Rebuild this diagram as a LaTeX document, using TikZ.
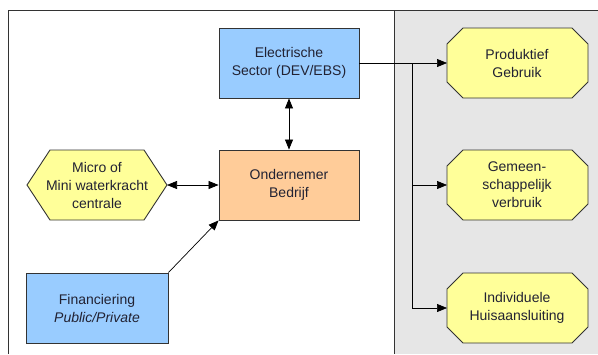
\documentclass[tikz,border=0pt]{standalone}
\usepackage{fontspec}
\setmainfont{Liberation Sans}
\usetikzlibrary{arrows.meta}
\definecolor{boxblue}{HTML}{99CCFF}
\definecolor{boxorange}{HTML}{FFCC99}
\definecolor{boxyellow}{HTML}{FFFF99}
\definecolor{panelgray}{HTML}{E6E6E6}
\definecolor{edgegray}{HTML}{333333}
\definecolor{txt}{HTML}{222233}
\begin{document}
\begin{tikzpicture}[x=1pt,y=-1pt,
  rectbox/.style={draw=edgegray,line width=0.9pt,minimum width=140pt,minimum height=70pt,inner sep=0pt,align=center,text=txt,font=\fontsize{14}{18}\selectfont},
  lbl/.style={align=center,text=txt,font=\fontsize{14}{18}\selectfont},
  shp/.style={draw=edgegray,line width=0.9pt,fill=boxyellow},
  arr/.style={-{Triangle[length=10pt,width=8pt]},line width=0.7pt},
  darr/.style={{Triangle[length=10pt,width=8pt]}-{Triangle[length=10pt,width=8pt]},line width=0.7pt}]
\useasboundingbox (0,0) rectangle (598,354);
\fill[white] (0,0) rectangle (598,354);
% gray panel
\fill[panelgray] (394,10) rectangle (598,354);
\draw[edgegray,line width=0.8pt] (394,10) -- (394,354);
% frame
\draw[edgegray,line width=0.9pt] (8,354) -- (8,10) -- (598,10);
% boxes
\node[rectbox,fill=boxblue] (es) at (289,63) {Electrische\\Sector (DEV/EBS)};
\node[rectbox,fill=boxorange] (ob) at (289,185) {Ondernemer\\Bedrijf};
\node[rectbox,fill=boxblue,minimum width=142pt] (fin) at (97,308) {Financiering\\\textit{Public/Private}};
% hexagon
\draw[shp] (27,185) -- (50,150) -- (144,150) -- (167,185) -- (144,220) -- (50,220) -- cycle;
\coordinate (hexr) at (167,185);
\node[lbl] (hex) at (97,185) {Micro of\\Mini waterkracht\\centrale};
% octagons
\foreach \n/\y in {p1/63,p2/185,p3/308}{
  \draw[shp] (463,\y-35) -- (572,\y-35) -- (588,\y-19) -- (588,\y+19) -- (572,\y+35) -- (463,\y+35) -- (447,\y+19) -- (447,\y-19) -- cycle;
  \coordinate (\n) at (447,\y);
}
\node[lbl] (t1) at (517,63) {Produktief\\Gebruik};
\node[lbl] (t2) at (517,185) {Gemeen-\\schappelijk\\verbruik};
\node[lbl] (t3) at (517,308) {Individuele\\Huisaansluiting};
% connectors
\draw[darr] (es.south) -- (ob.north);
\draw[darr] (hexr) -- (ob.west);
\draw[arr] (fin.north east) -- (ob.south west);
\coordinate (trunkTop) at (412,63);
\coordinate (trunk2) at (412,185);
\coordinate (trunk3) at (412,308);
\draw[arr] (es.east) -- (p1);
\draw[line width=0.7pt] (trunkTop) -- (trunk3);
\draw[arr] (trunk2) -- (p2);
\draw[arr] (trunk3) -- (p3);
\end{tikzpicture}
\end{document}
